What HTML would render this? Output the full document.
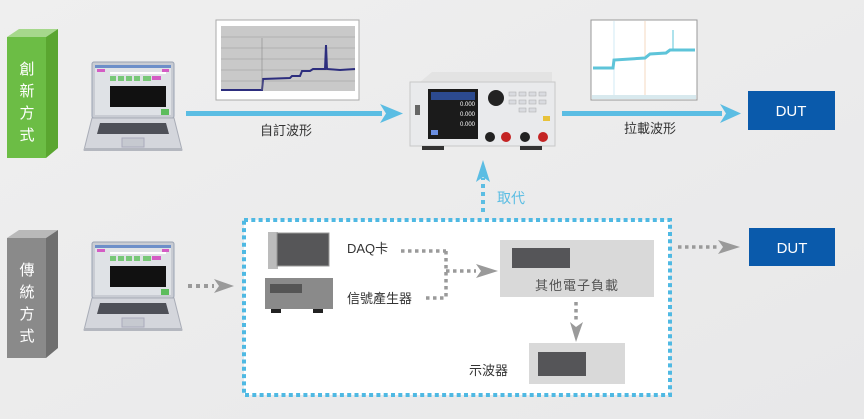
<!DOCTYPE html>
<html><head><meta charset="utf-8"><style>
html,body{margin:0;padding:0;width:864px;height:419px;overflow:hidden;background:#ececec;}
svg{display:block}
text{font-family:"Liberation Sans","Noto Sans CJK TC",sans-serif;}
</style></head><body>
<svg width="864" height="419" viewBox="0 0 864 419" xmlns="http://www.w3.org/2000/svg">
<defs>
<linearGradient id="bg" x1="0" y1="0" x2="1" y2="1"><stop offset="0" stop-color="#efefef"/><stop offset="1" stop-color="#e8e8e9"/></linearGradient>
<g id="laptop">
 <rect x="0" y="0" width="82" height="56" rx="2" fill="#c9ccd3" stroke="#9aa3b3"/>
 <rect x="3" y="3" width="76" height="50" fill="#dfe2e6"/>
 <rect x="3" y="3" width="76" height="3" fill="#6d8fc9"/>
 <rect x="5" y="7" width="8" height="3" fill="#d45cc4"/>
 <rect x="70" y="7" width="7" height="3" fill="#d45cc4"/>
 <rect x="18" y="10" width="56" height="2" fill="#fff"/>
 <rect x="18" y="14" width="6" height="5" fill="#78c878"/><rect x="26" y="14" width="6" height="5" fill="#78c878"/><rect x="34" y="14" width="6" height="5" fill="#78c878"/><rect x="42" y="14" width="6" height="5" fill="#78c878"/><rect x="51" y="14" width="8" height="5" fill="#78c878"/><rect x="60" y="14" width="9" height="4" fill="#d45cc4"/>
 <rect x="18" y="24" width="56" height="21" fill="#111"/>
 <rect x="69" y="47" width="8" height="6" fill="#5dbd5d"/>
 <path d="M0 56 L82 56 L90 88 L-8 88 Z" fill="#d4d6dc" stroke="#a8acb6"/>
 <path d="M8 61 L74 61 L77 72 L5 72 Z" fill="#4e5058"/>
 <rect x="30" y="76" width="22" height="9" fill="#c6c9d0" stroke="#aab"/>
 <rect x="-8" y="86" width="98" height="3" fill="#b4b7bf"/>
</g>
</defs>
<rect width="864" height="419" fill="url(#bg)"/>

<!-- green box -->
<polygon points="7,37 19,29 58,29 46,37" fill="#a6d88c"/>
<polygon points="46,37 58,29 58,148 46,158" fill="#5aa630"/>
<rect x="7" y="37" width="39" height="121" fill="#6cbd45"/>
<g fill="#fff" font-size="15" text-anchor="middle"><text x="27" y="74">創</text><text x="27" y="96">新</text><text x="27" y="118">方</text><text x="27" y="140">式</text></g>

<!-- gray box -->
<polygon points="7,238 19,230 58,230 46,238" fill="#b9b9b9"/>
<polygon points="46,238 58,230 58,348 46,358" fill="#6f6f6f"/>
<rect x="7" y="238" width="39" height="120" fill="#8a8a8a"/>
<g fill="#fff" font-size="15" text-anchor="middle"><text x="27" y="275">傳</text><text x="27" y="297">統</text><text x="27" y="319">方</text><text x="27" y="341">式</text></g>

<use href="#laptop" x="92" y="62"/>
<use href="#laptop" x="92" y="242"/>

<!-- chart 1 -->
<rect x="216" y="20" width="143" height="80" fill="#fff" stroke="#aaa"/>
<rect x="221" y="26" width="134" height="65" fill="#c9c9c9"/>
<g stroke="#999" stroke-width="0.6"><line x1="221" y1="37" x2="355" y2="37"/><line x1="221" y1="48" x2="355" y2="48"/><line x1="221" y1="59" x2="355" y2="59"/><line x1="221" y1="70" x2="355" y2="70"/><line x1="221" y1="81" x2="355" y2="81"/></g>
<polyline points="221,90 262,90 263,79 290,78 292,76 300,76 302,71 310,71 313,69 325,69 326,45 327,69 340,70 355,69" fill="none" stroke="#2d2e7e" stroke-width="2"/>
<line x1="262" y1="38" x2="262" y2="90" stroke="#888" stroke-width="0.6"/>

<!-- arrow 1 -->
<rect x="186" y="111" width="196" height="5" fill="#5bbde3"/>
<polygon points="380,104 403,113.5 380,123 386,113.5" fill="#5bbde3"/>
<text x="286" y="135" font-size="13" fill="#333" text-anchor="middle">自訂波形</text>

<!-- device -->
<polygon points="420,82 432,72 552,72 552,82" fill="#e3e3e3"/>
<rect x="410" y="82" width="145" height="64" fill="#e9eaec" stroke="#c8c8c8"/>
<rect x="428" y="89" width="50" height="50" fill="#1b1b1b"/>
<rect x="431" y="92" width="44" height="8" fill="#2c4a8f"/>
<g fill="#fff" font-size="6"><text x="460" y="106">0.000</text><text x="460" y="116">0.000</text><text x="460" y="126">0.000</text></g>
<rect x="431" y="130" width="7" height="5" fill="#6a8ee0"/>
<circle cx="496" cy="98" r="8" fill="#222"/>
<g fill="#d9dbe0" stroke="#aaa" stroke-width="0.5">
<rect x="509" y="92" width="7" height="4"/><rect x="519" y="92" width="7" height="4"/><rect x="529" y="92" width="7" height="4"/><rect x="539" y="92" width="7" height="4"/>
<rect x="509" y="100" width="7" height="4"/><rect x="519" y="100" width="7" height="4"/><rect x="529" y="100" width="7" height="4"/><rect x="539" y="100" width="7" height="4"/>
<rect x="519" y="108" width="7" height="4"/><rect x="529" y="108" width="7" height="4"/></g>
<rect x="543" y="116" width="7" height="5" fill="#e8c23a"/>
<circle cx="490" cy="137" r="5" fill="#222"/><circle cx="506" cy="137" r="5" fill="#c42424"/>
<circle cx="525" cy="137" r="5" fill="#222"/><circle cx="543" cy="137" r="5" fill="#c42424"/>
<rect x="415" y="105" width="5" height="10" fill="#666"/>
<rect x="422" y="146" width="22" height="4" fill="#333"/><rect x="520" y="146" width="22" height="4" fill="#333"/>

<!-- chart 2 -->
<rect x="591" y="20" width="106" height="80" fill="#fff" stroke="#999"/>
<line x1="614" y1="21" x2="614" y2="95" stroke="#bfe2ef" stroke-width="0.7"/>
<line x1="645" y1="21" x2="645" y2="95" stroke="#f0c8a8" stroke-width="0.7"/>
<polyline points="593,68 613,68 614,60 645,58 650,54 666,53 670,50 680,50 695,50" fill="none" stroke="#5ec4d9" stroke-width="3"/>
<line x1="673" y1="30" x2="673" y2="50" stroke="#5ec4d9"/>
<rect x="592" y="95" width="104" height="4" fill="#d8e9ee"/>

<!-- arrow 2 -->
<rect x="562" y="111" width="160" height="5" fill="#5bbde3"/>
<polygon points="720,104 741,113.5 720,123 726,113.5" fill="#5bbde3"/>
<text x="650" y="133" font-size="13" fill="#333" text-anchor="middle">拉載波形</text>

<rect x="748" y="91" width="87" height="39" fill="#0a5aab"/>
<text x="791" y="116" font-size="15" fill="#fff" text-anchor="middle">DUT</text>

<!-- 取代 arrow -->
<line x1="483" y1="212" x2="483" y2="178" stroke="#5bbde3" stroke-width="4" stroke-dasharray="4 4"/>
<polygon points="476,182 483,160 490,182 483,177" fill="#5bbde3"/>
<text x="497" y="203" font-size="14" fill="#5bbde3">取代</text>

<!-- dotted box -->
<rect x="242" y="219" width="186" height="0" />
<rect x="244" y="220" width="426" height="175" fill="#fff" stroke="#4fb9e3" stroke-width="4" stroke-dasharray="4 3.3"/>

<!-- laptop to box -->
<line x1="188" y1="286" x2="214" y2="286" stroke="#9a9a9a" stroke-width="4" stroke-dasharray="4 4"/>
<polygon points="214,279 234,286 214,293 219,286" fill="#9a9a9a"/>

<!-- DAQ -->
<rect x="268" y="232" width="10" height="37" fill="#bcbcbc"/>
<rect x="277" y="233" width="52" height="33" fill="#565658" stroke="#999"/>
<rect x="265" y="278" width="68" height="31" fill="#8a8a8a"/>
<rect x="270" y="284" width="32" height="9" fill="#555"/>
<rect x="271" y="309" width="10" height="4" fill="#222"/><rect x="313" y="309" width="10" height="4" fill="#222"/>
<text x="347" y="253" font-size="13" fill="#333">DAQ卡</text>
<text x="347" y="303" font-size="13" fill="#333">信號產生器</text>

<g stroke="#9a9a9a" stroke-width="3.5" stroke-dasharray="3.5 3.5" fill="none">
<line x1="401" y1="251" x2="446" y2="251"/>
<line x1="446" y1="251" x2="446" y2="298"/>
<line x1="426" y1="298" x2="446" y2="298"/>
<line x1="446" y1="271" x2="476" y2="271"/>
<line x1="576" y1="302" x2="576" y2="320"/>
<line x1="678" y1="247" x2="718" y2="247"/>
</g>
<polygon points="476,264 498,271 476,278 481,271" fill="#9a9a9a"/>
<polygon points="570,322 576,342 583,322 576,327" fill="#9a9a9a"/>
<polygon points="718,240 740,247 718,254 723,247" fill="#9a9a9a"/>

<rect x="500" y="240" width="154" height="57" fill="#d9d9d9"/>
<rect x="512" y="248" width="58" height="20" fill="#555558"/>
<text x="577" y="290" font-size="13" fill="#555" text-anchor="middle" letter-spacing="1">其他電子負載</text>

<rect x="529" y="343" width="96" height="41" fill="#d9d9d9"/>
<rect x="538" y="352" width="48" height="24" fill="#555558"/>
<text x="469" y="375" font-size="13" fill="#333">示波器</text>

<rect x="749" y="228" width="86" height="38" fill="#0a5aab"/>
<text x="792" y="253" font-size="15" fill="#fff" text-anchor="middle">DUT</text>
</svg>
</body></html>
